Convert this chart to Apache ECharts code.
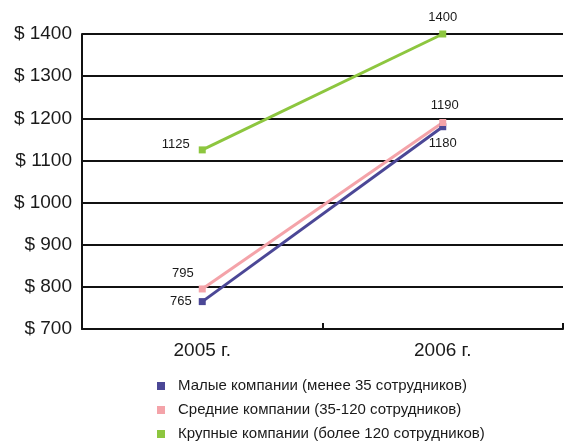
<!DOCTYPE html>
<html>
<head>
<meta charset="utf-8">
<script src="https://cdn.jsdelivr.net/npm/echarts@6/dist/echarts.min.js"></script>
<style>
  html, body { margin: 0; padding: 0; background: #fff; }
  #chart { width: 566px; height: 446px; }
</style>
</head>
<body>
<div id="chart"></div>
<script>
// Average salary by company size, 2005 vs 2006
const years = ['2005 г.', '2006 г.'];
const seriesNames = [
  'Малые компании (менее 35 сотрудников)',
  'Средние компании (35-120 сотрудников)',
  'Крупные компании (более 120 сотрудников)'
];
const smallCompanies = [765, 1180];
const mediumCompanies = [795, 1190];
const largeCompanies = [1125, 1400];
const yTicks = [700, 800, 900, 1000, 1100, 1200, 1300, 1400];

const colors = ['#4b4796', '#f4a3a9', '#8dc63f'];
const FONT = '"Liberation Sans", Arial, sans-serif';

// label placement per point: [first year, second year]
const labelPlacement = [
  [{ position: 'left', offset: [-2, 0] }, { position: 'bottom', offset: [0, 2] }],
  [{ position: 'left', offset: [0, -16] }, { position: 'top', offset: [2, -2] }],
  [{ position: 'left', offset: [-4, -5] }, { position: 'top', offset: [0, -2] }]
];

function makeSeries(name, values, color, placement) {
  return {
    name: name,
    type: 'line',
    data: values.map((v, i) => ({
      value: v,
      label: Object.assign({ show: true }, placement[i])
    })),
    symbol: 'rect',
    symbolSize: 7,
    lineStyle: { width: 3, color: color },
    itemStyle: { color: color },
    label: { fontSize: 13, color: '#1a1a1a', fontFamily: FONT },
    emphasis: { disabled: true },
    z: 3
  };
}

const chart = echarts.init(document.getElementById('chart'), null, { renderer: 'canvas' });
chart.setOption({
  animation: false,
  backgroundColor: '#fff',
  color: colors,
  grid: { left: 82, right: 3, top: 34, bottom: 117, containLabel: false },
  legend: {
    orient: 'vertical',
    left: 157,
    top: 378,
    height: 68,
    padding: 0,
    icon: 'rect',
    itemWidth: 8,
    itemHeight: 8,
    itemGap: 8,
    textStyle: { fontSize: 15, lineHeight: 16, color: '#1a1a1a', fontFamily: FONT, padding: [0, 0, 0, 8] },
    data: seriesNames
  },
  xAxis: {
    type: 'category',
    data: years,
    boundaryGap: true,
    axisLine: { lineStyle: { color: '#111', width: 2 } },
    axisTick: { show: true, inside: true, length: 6, interval: 0, lineStyle: { color: '#111', width: 2 } },
    axisLabel: { fontSize: 19, color: '#1a1a1a', margin: 12, fontFamily: FONT }
  },
  yAxis: {
    type: 'value',
    min: yTicks[0],
    max: yTicks[yTicks.length - 1],
    interval: 100,
    axisLine: { show: true, lineStyle: { color: '#111', width: 2 } },
    axisTick: { show: false },
    axisLabel: {
      fontSize: 19, color: '#1a1a1a', margin: 10, fontFamily: FONT,
      formatter: v => '$ ' + v
    },
    splitLine: { lineStyle: { color: '#111', width: 2 } }
  },
  series: [
    makeSeries(seriesNames[0], smallCompanies, colors[0], labelPlacement[0]),
    makeSeries(seriesNames[1], mediumCompanies, colors[1], labelPlacement[1]),
    makeSeries(seriesNames[2], largeCompanies, colors[2], labelPlacement[2])
  ]
});
</script>
</body>
</html>
